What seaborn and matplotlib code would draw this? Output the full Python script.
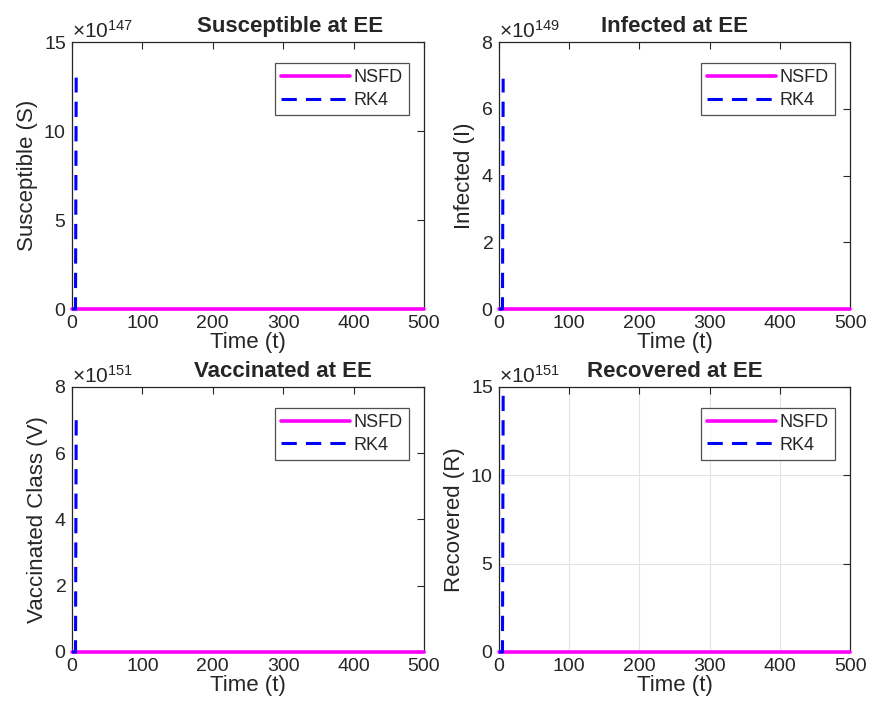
import numpy as np
import pandas as pd
import matplotlib
matplotlib.use("Agg")
import matplotlib.pyplot as plt
from matplotlib.ticker import ScalarFormatter
import seaborn as sns

# 데이터 (평형점 EE 에서의 NSFD / RK4 결과)
t_nsfd = [0, 100, 200, 300, 400, 500]
S_nsfd = [0, 0, 0, 0, 0, 0]
I_nsfd = [0, 0, 0, 0, 0, 0]
V_nsfd = [0, 0, 0, 0, 0, 0]
R_nsfd = [0, 0, 0, 0, 0, 0]

t_rk4 = [0, 3, 5, 6]
S_rk4 = [0, 0, 0, 1.3e148]
I_rk4 = [0, 0, 0, 6.9e149]
V_rk4 = [0, 0, 0, 7.0e151]
R_rk4 = [0, 0, 0, 1.46e152]

titles = ["Susceptible at EE", "Infected at EE", "Vaccinated at EE", "Recovered at EE"]
ylabels = ["Susceptible (S)", "Infected (I)", "Vaccinated Class (V)", "Recovered (R)"]
exponents = [147, 149, 151, 151]
ymax = [15, 8, 8, 15]
ystep = [5, 2, 2, 5]
xticks = [0, 100, 200, 300, 400, 500]

sns.set_style("white")
plt.rcParams['font.family'] = ['Liberation Sans', 'DejaVu Sans']
plt.rcParams['mathtext.fontset'] = 'custom'
plt.rcParams['mathtext.rm'] = 'Liberation Sans'
plt.rcParams['axes.edgecolor'] = '#262626'
plt.rcParams['axes.linewidth'] = 0.9

fig = plt.figure(figsize=(8.8, 7.11), dpi=100)
positions = [
    [0.0818, 0.5654, 0.400, 0.3755],
    [0.5670, 0.5654, 0.399, 0.3755],
    [0.0818, 0.0830, 0.400, 0.3727],
    [0.5670, 0.0830, 0.399, 0.3727],
]
title_x = [0.62, 0.5, 0.60, 0.5]  # 왼쪽 열 제목은 오른쪽으로 밀려 있음

nsfd_all = [S_nsfd, I_nsfd, V_nsfd, R_nsfd]
rk4_all = [S_rk4, I_rk4, V_rk4, R_rk4]

for k in range(4):
    ax = fig.add_axes(positions[k])
    sns.lineplot(x=t_nsfd, y=nsfd_all[k], ax=ax, color='#ff00ff', linewidth=2.6,
                 label='NSFD', estimator=None, sort=False, clip_on=False, zorder=3)
    sns.lineplot(x=t_rk4, y=rk4_all[k], ax=ax, color='#0000ff', linewidth=2.2,
                 linestyle=(0, (5, 3)), label='RK4', estimator=None, sort=False,
                 clip_on=False, zorder=4)

    scale = 10.0 ** exponents[k]
    ax.set_xlim(0, 500)
    ax.set_ylim(0, ymax[k] * scale)
    ax.set_xticks(xticks)
    ax.set_yticks(np.arange(0, ymax[k] + 1, ystep[k]) * scale)
    fmt = ScalarFormatter(useMathText=True)
    fmt.set_powerlimits((exponents[k], exponents[k]))
    ax.yaxis.set_major_formatter(fmt)
    ax.yaxis.get_offset_text().set_fontsize(15)
    ax.yaxis.get_offset_text().set_color('#262626')

    ax.tick_params(direction='in', top=True, right=True, length=5, width=0.8,
                   labelsize=14, colors='#262626', pad=4)
    for sp in ax.spines.values():
        sp.set_visible(True)

    ax.set_title(titles[k], fontsize=16, fontweight='bold', pad=7, x=title_x[k])
    ax.set_xlabel('Time (t)', fontsize=16, color='#262626', labelpad=0)
    ax.set_ylabel(ylabels[k], fontsize=16, color='#262626', labelpad=4)

    if k == 3:
        ax.grid(True, color='#e3e3e3', linewidth=0.8)
        ax.set_axisbelow(True)

    leg = ax.legend(loc='upper right', bbox_to_anchor=(0.957, 0.921), fontsize=13,
                    frameon=True, fancybox=False, edgecolor='#262626',
                    handlelength=3.8, handletextpad=0.2, labelspacing=0.3,
                    borderpad=0.35, borderaxespad=0)
    leg.get_frame().set_linewidth(0.9)

plt.savefig('out.png', dpi=100)
